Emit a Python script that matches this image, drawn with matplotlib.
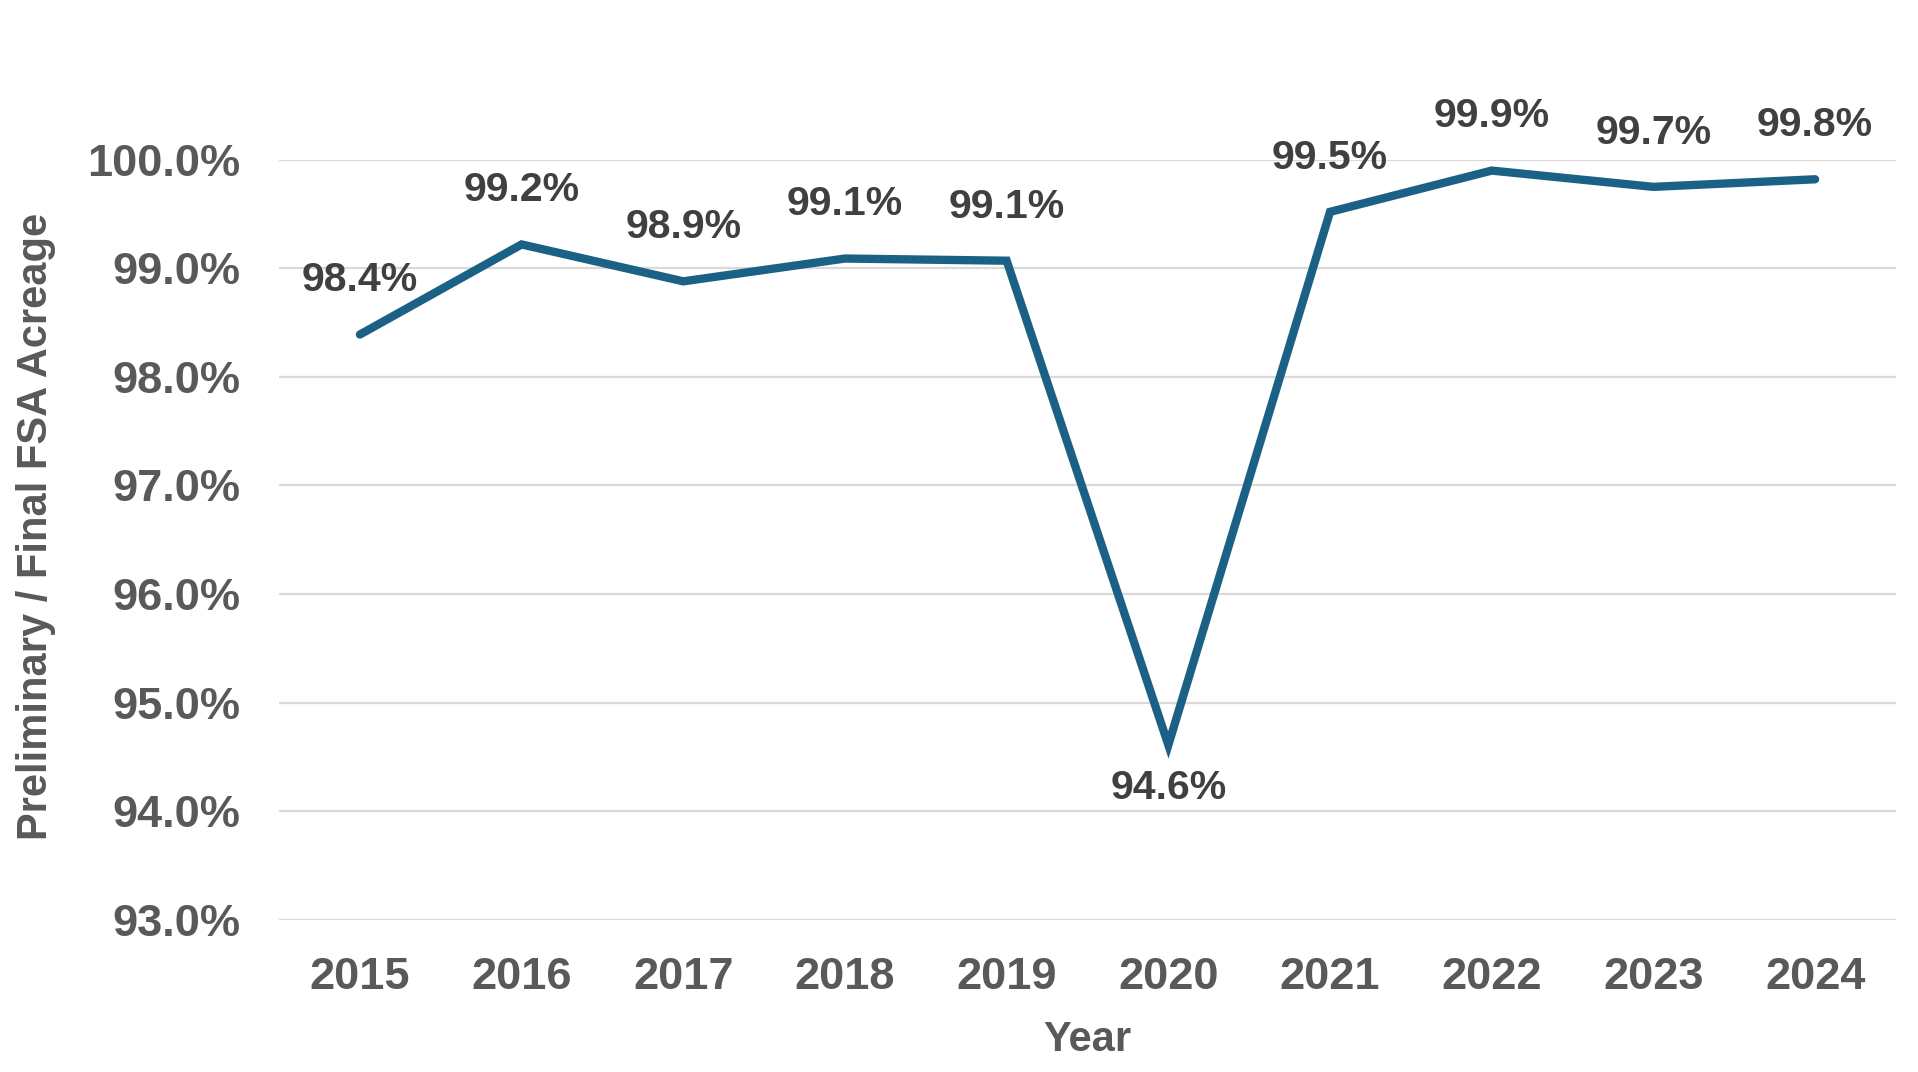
import matplotlib
matplotlib.use('Agg')
import matplotlib.pyplot as plt

years = ['2015', '2016', '2017', '2018', '2019', '2020', '2021', '2022', '2023', '2024']
ratio = [98.39, 99.22, 98.88, 99.09, 99.07, 94.61, 99.52, 99.90, 99.75, 99.82]
labels = ['98.4%', '99.2%', '98.9%', '99.1%', '99.1%', '94.6%', '99.5%', '99.9%', '99.7%', '99.8%']
yticks = [93, 94, 95, 96, 97, 98, 99, 100]

plt.rcParams['font.family'] = ['Liberation Sans', 'DejaVu Sans']
plt.rcParams['font.weight'] = 'bold'

fig = plt.figure(figsize=(19.18, 10.72), dpi=100)
ax = fig.add_axes([0.1455, 0.142, 0.843, 0.709])

x = list(range(len(years)))
ax.plot(x, ratio, color='#1b6185', lw=6, solid_joinstyle='miter',
        solid_capstyle='round', zorder=3)

for xi, v, lab in zip(x, ratio, labels):
    off = -31 if lab == '94.6%' else 39
    ax.annotate(lab, (xi, v), xytext=(0, off), textcoords='offset points',
                ha='center', va='center', fontsize=29.5, fontweight='bold',
                color='#404040', annotation_clip=False)

ax.set_xlim(-0.5, len(years) - 0.5)
ax.set_ylim(93, 100)
ax.set_xticks(x)
ax.set_xticklabels(years)
ax.set_yticks(yticks)
ax.set_yticklabels([f'{t:.1f}%' for t in yticks])
ax.tick_params(axis='both', length=0, labelsize=32.5, labelcolor='#595959')
ax.tick_params(axis='y', pad=28)
ax.tick_params(axis='x', pad=27)
for lab in ax.get_xticklabels() + ax.get_yticklabels():
    lab.set_fontweight('bold')

ax.grid(axis='y', color='#d9d9d9', lw=1.6, zorder=0)
ax.set_axisbelow(True)
for s in ax.spines.values():
    s.set_visible(False)

ax.set_xlabel('Year', fontsize=30, fontweight='bold', color='#595959')
ax.set_ylabel('Preliminary / Final FSA Acreage', fontsize=30,
              fontweight='bold', color='#595959')
ax.xaxis.set_label_coords(0.5, -0.132)
ax.yaxis.set_label_coords(-0.138, 0.517)

fig.savefig('out.png', dpi=100)
